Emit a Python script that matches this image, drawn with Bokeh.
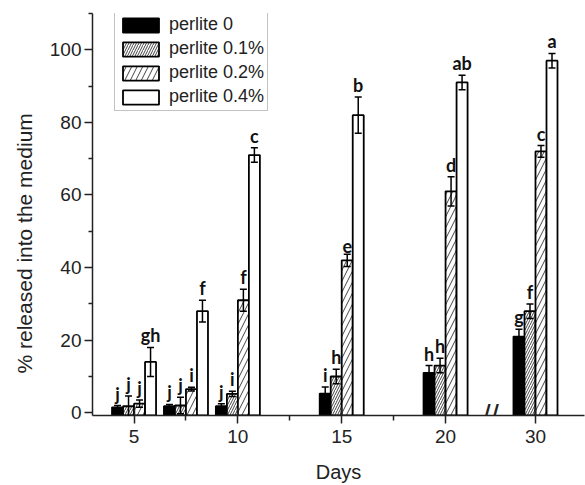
from bokeh.plotting import figure
from bokeh.models import (ColumnDataSource, FixedTicker, Whisker, TeeHead, Legend,
                          LegendItem, Range1d, Label, Title)
from bokeh.core.properties import value
from bokeh.embed import file_html
from bokeh.resources import INLINE

# ---------------- data ----------------
days = [5, 7.5, 10, 15, 20, 30]
tick_days = [5, 10, 15, 20, 30]
minor_days = [7.5, 12.5, 17.5]
series_names = ["perlite 0", "perlite 0.1%", "perlite 0.2%", "perlite 0.4%"]

perlite_0 = [1.5, 1.8, 1.8, 5.3, 11, 21]
perlite_0_1 = [1.8, 2.0, 5.2, 10, 13, 28]
perlite_0_2 = [2.5, 6.5, 31, 42, 61, 72]
perlite_0_4 = [14, 28, 71, 82, 91, 97]

err_0 = [0.5, 0.5, 0.7, 1.8, 2, 2]
err_0_1 = [2.8, 2.3, 0.7, 2, 2, 2]
err_0_2 = [1.0, 0.5, 3, 1.7, 4, 1.6]
err_0_4 = [4, 3, 2, 5, 2, 2]

letters_0 = ["j", "j", "j", "i", "h", "g"]
letters_0_1 = ["j", "j", "i", "h", "h", "f"]
letters_0_2 = ["j", "i", "f", "e", "d", "c"]
letters_0_4 = ["gh", "f", "c", "b", "ab", "a"]

x_title = "Days"
y_title = "% released into the medium"

series_values = [perlite_0, perlite_0_1, perlite_0_2, perlite_0_4]
series_errors = [err_0, err_0_1, err_0_2, err_0_4]
series_letters = [letters_0, letters_0_1, letters_0_2, letters_0_4]

# ---------------- axis break mapping ----------------
BREAK_FROM = 20
COMPRESS = 0.433


def axis_pos(d):
    return d if d <= BREAK_FROM else BREAK_FROM + (d - BREAK_FROM) * COMPRESS


BAR_W = 0.53
offsets = [-1.5, -0.5, 0.5, 1.5]

fill_colors = ["black", "white", "white", "white"]
hatch_patterns = [" ", "/", "/", " "]
hatch_scales = [5, 5, 11, 5]

FONT = "Liberation Sans"
Y0 = -0.75
X0, X1 = 3.0, 26.69

p = figure(width=585, height=485, output_backend="svg", toolbar_location=None,
           x_range=Range1d(X0, X1), y_range=Range1d(Y0, 110),
           min_border_left=92, min_border_right=1, min_border_top=13,
           min_border_bottom=68)
p.outline_line_color = None
p.xgrid.visible = False
p.ygrid.visible = False
p.background_fill_color = "white"
p.border_fill_color = "white"

renderers = []
for i in range(4):
    xs = [axis_pos(d) + offsets[i] * BAR_W for d in days]
    vals = series_values[i]
    errs = series_errors[i]
    src = ColumnDataSource(dict(
        x=xs, top=vals, bottom=[Y0] * len(vals),
        upper=[v + e for v, e in zip(vals, errs)],
        lower=[v - e for v, e in zip(vals, errs)],
        label=series_letters[i]))
    r = p.vbar(x="x", top="top", bottom="bottom", width=BAR_W, source=src,
               fill_color=fill_colors[i], line_color="black", line_width=1.8,
               hatch_pattern=hatch_patterns[i], hatch_scale=hatch_scales[i],
               hatch_color="#444444", hatch_weight=1.0)
    renderers.append(r)
    w = Whisker(base="x", upper="upper", lower="lower", source=src,
                line_color="black", line_width=1.5, level="annotation",
                upper_head=TeeHead(size=7, line_width=1.5, line_color="black"),
                lower_head=TeeHead(size=7, line_width=1.5, line_color="black"))
    p.add_layout(w)
    p.text(x="x", y="upper", text="label", source=src, text_align="center",
           text_baseline="bottom", y_offset=-1, text_font=value("Lato"),
           text_font_style="bold", text_font_size="18px", text_color="#111111")

# ---------------- axes ----------------
xa = p.xaxis[0]
xa.ticker = FixedTicker(ticks=[axis_pos(d) for d in tick_days],
                        minor_ticks=[axis_pos(d) for d in minor_days])
xa.major_label_overrides = {axis_pos(d): str(d) for d in tick_days}
xa.axis_label = x_title
xa.major_tick_in = 8
xa.major_tick_out = 8
xa.minor_tick_in = 0
xa.minor_tick_out = 5
xa.major_label_standoff = 6
xa.axis_label_standoff = 15

ya = p.yaxis[0]
ya.ticker = FixedTicker(ticks=[0, 20, 40, 60, 80, 100],
                        minor_ticks=[10, 30, 50, 70, 90, 110])
ya.major_tick_in = 0
ya.major_tick_out = 8
ya.minor_tick_in = 0
ya.minor_tick_out = 4
ya.major_label_standoff = 3

for ax in (xa, ya):
    ax.axis_line_color = "#222222"
    ax.axis_line_width = 1.5
    ax.major_tick_line_color = "#222222"
    ax.major_tick_line_width = 1.5
    ax.minor_tick_line_color = "#222222"
    ax.minor_tick_line_width = 1.5
    ax.major_label_text_font = FONT
    ax.major_label_text_font_size = "19px"
    ax.major_label_text_color = "#222222"
    ax.axis_label_text_font = FONT
    ax.axis_label_text_font_size = "20px"
    ax.axis_label_text_font_style = "normal"
    ax.axis_label_text_color = "#222222"

# y-axis title as a side title, shifted slightly below the frame centre
ytitle = Title(text=y_title, align="left", offset=42, standoff=18,
               vertical_align="top",
               text_font=FONT, text_font_size="21px", text_font_style="normal",
               text_color="#222222")
p.add_layout(ytitle, "left")

# axis break mark
p.add_layout(Label(x=axis_pos(25), y=Y0, text="//", text_align="center",
                   text_baseline="middle", text_font=FONT,
                   text_font_size="30px", text_color="#222222"))

# ---------------- legend ----------------
legend = Legend(items=[LegendItem(label=n, renderers=[r])
                       for n, r in zip(series_names, renderers)],
                location=(22, 304))
legend.glyph_width = 45
legend.glyph_height = 18
legend.label_height = 18
legend.label_standoff = 6
legend.spacing = 3
legend.padding = 3
legend.margin = 0
legend.label_text_font = FONT
legend.label_text_font_size = "18px"
legend.label_text_color = "#222222"
legend.border_line_color = "#888888"
legend.border_line_width = 1
legend.background_fill_color = "white"
legend.background_fill_alpha = 1.0
p.add_layout(legend)

open("out.html", "w").write(file_html(p, INLINE))
